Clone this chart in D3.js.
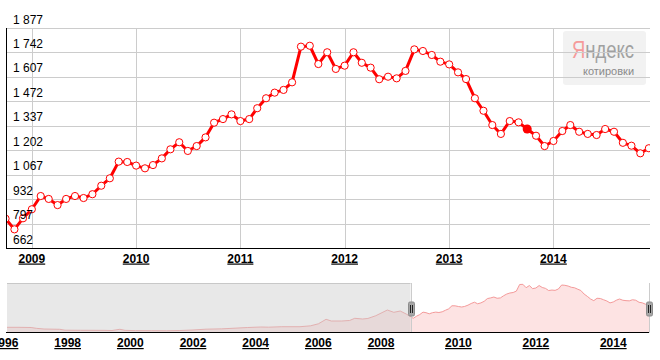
<!DOCTYPE html>
<html>
<head>
<meta charset="utf-8">
<script src="https://cdn.jsdelivr.net/npm/d3@7"></script>
<style>
  body { margin: 0; background: #fff; }
  svg { display: block; font-family: "Liberation Sans", Arial, sans-serif; }
</style>
</head>
<body>
<div id="container"></div>
<script>
const w = 660;
const h = 360;
const plotL = 7;
const plotR = 650;
const plotT = 28;
const plotB = 248;
const navT = 283;
const navB = 332;

// monthly values, main chart (Oct 2008 .. Jan 2015)
const values2008 = [824, 765, 826]; // Oct - Dec
const values2009 = [876, 949, 933, 899, 933, 949, 938, 959, 1006, 1047, 1139, 1137];
const values2010 = [1117, 1102, 1120, 1157, 1207, 1246, 1198, 1225, 1273, 1354, 1374, 1400];
const values2011 = [1363, 1374, 1434, 1489, 1520, 1535, 1577, 1774, 1779, 1678, 1743, 1651];
const values2012 = [1669, 1743, 1685, 1658, 1594, 1608, 1599, 1640, 1759, 1750, 1728, 1691];
const values2013 = [1676, 1632, 1595, 1489, 1420, 1341, 1292, 1363, 1356, 1319, 1282, 1225];
const values2014 = [1253, 1308, 1341, 1304, 1292, 1286, 1319, 1304, 1243, 1227, 1185, 1213];
const values2015 = [1251]; // Jan
const yearBlocks = [
  [2008, 9, values2008],
  [2009, 0, values2009],
  [2010, 0, values2010],
  [2011, 0, values2011],
  [2012, 0, values2012],
  [2013, 0, values2013],
  [2014, 0, values2014],
  [2015, 0, values2015]
];
const hoverMonth = "2013-10";

const yTicks = [662, 797, 932, 1067, 1202, 1337, 1472, 1607, 1742, 1877];
const xTickYears = [2009, 2010, 2011, 2012, 2013, 2014];
const viewFrom = "2008-10-06";
const viewTo = "2014-12-05";

// navigator history before the main range
const navMonths = ["1996-01", "1996-06", "1996-11", "1997-01", "1997-04", "1997-10", "1997-12",
  "1998-06", "1999-03", "1999-06", "1999-09", "1999-11", "2000-03", "2000-09", "2001-03",
  "2001-08", "2002-01", "2002-06", "2002-12", "2003-04", "2003-10", "2004-03", "2004-06",
  "2004-11", "2005-06", "2005-10", "2006-01", "2006-04", "2006-06", "2006-10", "2007-01",
  "2007-03", "2007-06", "2007-08", "2007-11", "2008-03", "2008-05", "2008-07", "2008-09"];
const navValues = [496, 496, 490, 466, 445, 437, 410,
  407, 405, 400, 437, 405, 397, 395, 392,
  400, 416, 440, 450, 466, 490, 505, 500,
  514, 514, 540, 600, 735, 684, 684, 700,
  765, 744, 760, 842, 1012, 944, 982, 884];
const navTickYears = [1996, 1998, 2000, 2002, 2004, 2006, 2008, 2010, 2012, 2014];

const series = [];
yearBlocks.forEach(([year, start, vals]) => {
  vals.forEach((v, i) => series.push([new Date(year, start + i, 1), v]));
});

function fracYear(date) {
  const y = date.getFullYear();
  const a = new Date(y, 0, 1);
  const b = new Date(y + 1, 0, 1);
  return y + (date - a) / (b - a);
}
const parseMonth = d3.timeParse("%Y-%m");
const parseDay = d3.timeParse("%Y-%m-%d");
const navSeries = navMonths
  .map((m, i) => [fracYear(parseMonth(m)), navValues[i]])
  .concat(series.map(d => [fracYear(d[0]), d[1]]));

const fmt = d3.formatLocale({ decimal: ".", thousands: " ", grouping: [3], currency: ["", ""] }).format(",d");

const svg = d3
  .select("#container")
  .append("svg")
  .attr("width", w)
  .attr("height", h);

const defs = svg.append("defs");
defs.append("clipPath").attr("id", "plot-clip")
  .append("rect")
  .attr("x", plotL).attr("y", 0)
  .attr("width", plotR - plotL).attr("height", plotB + 6);
defs.append("clipPath").attr("id", "nav-clip")
  .append("rect")
  .attr("x", plotL).attr("y", navT - 4)
  .attr("width", plotR - plotL).attr("height", navB - navT + 4);
// red first letter, grey rest of the logo word
const logoGrad = defs.append("linearGradient").attr("id", "logo-fill");
logoGrad.append("stop").attr("offset", 0.205).attr("stop-color", "#f59a9a");
logoGrad.append("stop").attr("offset", 0.205).attr("stop-color", "#a0a0a0");

const xScale = d3.scaleTime()
  .domain([parseDay(viewFrom), parseDay(viewTo)])
  .range([plotL, plotR]);

const yScale = d3.scaleLinear()
  .domain([662, 1877])
  .range([plotB, plotT]);

const navX = d3.scaleLinear()
  .domain([1996, 2008, 2015])
  .range([5, 381, 652]);

const navY = d3.scaleLinear()
  .domain([356, 1780])
  .range([navB, 284.3]);

// logo
const logo = svg.append("g");
logo.append("rect")
  .attr("x", 563).attr("y", 31)
  .attr("width", 83).attr("height", 54)
  .attr("rx", 3)
  .attr("fill", "#f2f2f2");
logo.append("text")
  .attr("transform", "translate(572,58) scale(0.77,1)")
  .attr("font-size", 24)
  .attr("fill", "url(#logo-fill)")
  .text("Яндекс");
logo.append("text")
  .attr("x", 583).attr("y", 75)
  .attr("font-size", 11)
  .attr("fill", "#8a8a8a")
  .text("котировки");

// grid
svg.append("g")
  .selectAll("line")
  .data(yTicks)
  .enter()
  .append("line")
  .attr("x1", plotL).attr("x2", plotR)
  .attr("y1", d => Math.round(yScale(d)) + 0.5)
  .attr("y2", d => Math.round(yScale(d)) + 0.5)
  .attr("stroke", "#cccccc");

svg.append("g")
  .selectAll("line")
  .data(xTickYears)
  .enter()
  .append("line")
  .attr("x1", d => Math.round(xScale(new Date(d, 0, 1))) + 0.5)
  .attr("x2", d => Math.round(xScale(new Date(d, 0, 1))) + 0.5)
  .attr("y1", plotT).attr("y2", plotB)
  .attr("stroke", "#cccccc");

// axes lines
svg.append("line")
  .attr("x1", plotL - 0.5).attr("x2", plotL - 0.5)
  .attr("y1", plotT).attr("y2", plotB + 1)
  .attr("stroke", "#000");
svg.append("line")
  .attr("x1", plotL - 1).attr("x2", plotR)
  .attr("y1", plotB + 0.5).attr("y2", plotB + 0.5)
  .attr("stroke", "#000");

// series
const plot = svg.append("g").attr("clip-path", "url(#plot-clip)");
const line = d3.line()
  .x(d => xScale(d[0]))
  .y(d => yScale(d[1]));
plot.append("path")
  .datum(series)
  .attr("d", line)
  .attr("fill", "none")
  .attr("stroke", "#ff0000")
  .attr("stroke-width", 3)
  .attr("stroke-linejoin", "round");
plot.selectAll("circle.pt")
  .data(series)
  .enter()
  .append("circle")
  .attr("class", "pt")
  .attr("cx", d => xScale(d[0]))
  .attr("cy", d => yScale(d[1]))
  .attr("r", 3.6)
  .attr("fill", "#fff")
  .attr("stroke", "#ff0000")
  .attr("stroke-width", 1);
const hovered = series.find(d => d3.timeFormat("%Y-%m")(d[0]) === hoverMonth);
plot.append("circle")
  .attr("cx", xScale(hovered[0]))
  .attr("cy", yScale(hovered[1]))
  .attr("r", 4.5)
  .attr("fill", "#ff0000");

// y labels
svg.append("g")
  .selectAll("text")
  .data(yTicks)
  .enter()
  .append("text")
  .attr("x", 13)
  .attr("y", d => yScale(d) - 4.5)
  .attr("font-size", 12)
  .attr("fill", "#000")
  .text(d => fmt(d));

// x labels
svg.append("g")
  .selectAll("text")
  .data(xTickYears)
  .enter()
  .append("text")
  .attr("x", d => xScale(new Date(d, 0, 1)))
  .attr("y", 262.5)
  .attr("text-anchor", "middle")
  .attr("font-size", 12)
  .attr("font-weight", "bold")
  .style("text-decoration", "underline")
  .attr("fill", "#000")
  .text(d => d);

// navigator
const nav = svg.append("g");
const navArea = d3.area()
  .x(d => navX(d[0]))
  .y0(navB)
  .y1(d => navY(d[1]));
const navClip = nav.append("g").attr("clip-path", "url(#nav-clip)");
navClip.append("path")
  .datum(navSeries)
  .attr("d", navArea)
  .attr("fill", "#fde3e3");
navClip.append("path")
  .datum(navSeries)
  .attr("d", navArea.lineY1())
  .attr("fill", "none")
  .attr("stroke", "#f49a9a")
  .attr("stroke-width", 1);

const hL = navX(fracYear(parseDay(viewFrom)));
const hR = navX(fracYear(parseDay(viewTo)));
nav.append("rect")
  .attr("x", plotL).attr("y", navT)
  .attr("width", hL - plotL).attr("height", navB - navT)
  .attr("fill", "rgba(204,204,204,0.45)");
nav.append("line")
  .attr("x1", plotL).attr("x2", hL)
  .attr("y1", navT + 0.5).attr("y2", navT + 0.5)
  .attr("stroke", "#c8c8c8");
[hL, hR].forEach(x => {
  nav.append("line")
    .attr("x1", Math.round(x) + 0.5).attr("x2", Math.round(x) + 0.5)
    .attr("y1", navT).attr("y2", navB)
    .attr("stroke", "#cccccc");
});
nav.append("line")
  .attr("x1", plotL - 1).attr("x2", hR)
  .attr("y1", navB + 0.5).attr("y2", navB + 0.5)
  .attr("stroke", "#000");

[hL, hR].forEach(x => {
  const cx = Math.round(x) + 0.5;
  nav.append("rect")
    .attr("x", cx - 3).attr("y", 302)
    .attr("width", 6).attr("height", 14)
    .attr("rx", 1.5)
    .attr("fill", "#a6a6a6")
    .attr("stroke", "#8c8c8c");
  [-1, 1].forEach(o => {
    nav.append("line")
      .attr("x1", cx + o).attr("x2", cx + o)
      .attr("y1", 305).attr("y2", 313)
      .attr("stroke", "#222");
  });
});

nav.append("g")
  .selectAll("text")
  .data(navTickYears)
  .enter()
  .append("text")
  .attr("x", d => navX(d))
  .attr("y", 347)
  .attr("text-anchor", "middle")
  .attr("font-size", 12)
  .attr("font-weight", "bold")
  .style("text-decoration", "underline")
  .attr("fill", "#000")
  .text(d => d);
</script>
</body>
</html>
